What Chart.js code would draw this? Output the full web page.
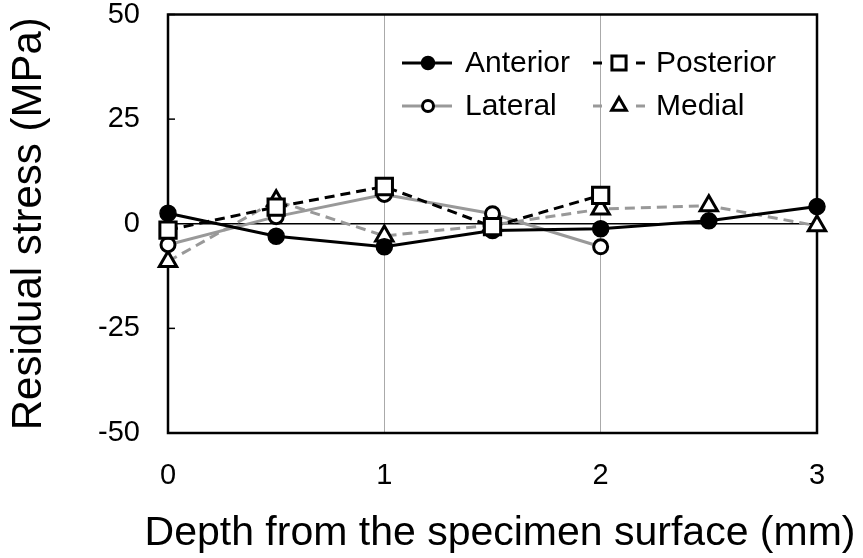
<!DOCTYPE html>
<html>
<head>
<meta charset="utf-8">
<script src="https://cdn.jsdelivr.net/npm/chart.js@4.4.1/dist/chart.umd.min.js"></script>
<style>
  html, body { margin: 0; padding: 0; background: #fff; }
  #wrap { width: 863px; height: 558px; }
</style>
</head>
<body>
<div id="wrap"><canvas id="stressChart" width="863" height="558"></canvas></div>
<script>
// depth positions (mm) and residual stress (MPa)
const depths = [0, 0.5, 1, 1.5, 2, 2.5, 3];
const anterior = [2.5, -3, -5.5, -1.6, -1.2, 0.7, 4.1];
const posterior = [-1.5, 4, 8.9, -0.7, 6.8];
const lateral = [-5, 1.7, 7, 2.4, -5.5];
const medial = [-9, 5.5, -2.9, -0.3, 3.5, 4.3, -0.5];
const xTicks = [0, 1, 2, 3];
const yTicks = [-50, -25, 0, 25, 50];
const seriesNames = ['Anterior', 'Posterior', 'Lateral', 'Medial'];
const xTitle = 'Depth from the specimen surface (mm)';
const yTitle = 'Residual stress (MPa)';

const FONT = "'Liberation Sans', Arial, sans-serif";
const GREY = '#999999';

function pts(values) {
  return values.map((v, i) => ({ x: depths[i], y: v }));
}

const datasets = [
  { label: seriesNames[0], data: pts(anterior), borderColor: '#000', borderWidth: 3,
    pointStyle: 'circle', pointRadius: 8, pointBackgroundColor: '#000', pointBorderColor: '#000',
    pointBorderWidth: 1.5, order: 1 },
  { label: seriesNames[1], data: pts(posterior), borderColor: '#000', borderWidth: 3, borderDash: [10, 6],
    pointStyle: 'rect', pointRadius: 11.5, pointBackgroundColor: '#fff', pointBorderColor: '#000',
    pointBorderWidth: 3, order: 0 },
  { label: seriesNames[2], data: pts(lateral), borderColor: GREY, borderWidth: 3,
    pointStyle: 'circle', pointRadius: 7, pointBackgroundColor: '#fff', pointBorderColor: '#000',
    pointBorderWidth: 3, order: 2 },
  { label: seriesNames[3], data: pts(medial), borderColor: GREY, borderWidth: 3, borderDash: [10, 6],
    pointStyle: 'triangle', pointRadius: 10, pointBackgroundColor: '#fff', pointBorderColor: '#000',
    pointBorderWidth: 3, order: 3 }
];
datasets.forEach(d => { d.tension = 0; d.clip = false; d.fill = false; });

// frame on all four sides, short inward ticks on the y axis, and the x title
// (drawn here so it is not squeezed to the plot width)
const framePlugin = {
  id: 'frame',
  beforeDatasetsDraw(chart) {
    const { ctx, chartArea: a, scales: { y } } = chart;
    ctx.save();
    ctx.strokeStyle = '#000';
    ctx.lineWidth = 1.5;
    yTicks.forEach(t => {
      const py = y.getPixelForValue(t);
      ctx.beginPath();
      ctx.moveTo(a.left, py);
      ctx.lineTo(a.left + 7, py);
      ctx.stroke();
    });
    ctx.lineWidth = 2.5;
    ctx.strokeRect(a.left, a.top, a.right - a.left, a.bottom - a.top);

    ctx.fillStyle = '#000';
    ctx.font = '41px ' + FONT;
    ctx.textAlign = 'center';
    ctx.textBaseline = 'alphabetic';
    ctx.fillText(xTitle, 500, 545);
    ctx.restore();
  }
};

// legend inside the plot, two columns
const legendPlugin = {
  id: 'insideLegend',
  afterDatasetsDraw(chart) {
    const { ctx } = chart;
    const cols = [402, 593];
    const rows = [63, 106];
    ctx.save();
    ctx.font = '30px ' + FONT;
    ctx.textBaseline = 'middle';
    ctx.fillStyle = '#000';
    chart.data.datasets.forEach((ds, i) => {
      const x0 = cols[i % 2];
      const y0 = rows[Math.floor(i / 2)];
      const mx = x0 + 26;
      ctx.strokeStyle = ds.borderColor;
      ctx.lineWidth = 3;
      ctx.setLineDash([]);
      ctx.beginPath();
      if (ds.borderDash) {
        ctx.moveTo(x0, y0); ctx.lineTo(x0 + 9, y0);
        ctx.moveTo(mx + 17, y0); ctx.lineTo(mx + 26, y0);
      } else {
        ctx.moveTo(x0, y0); ctx.lineTo(x0 + 50, y0);
      }
      ctx.stroke();
      ctx.fillStyle = ds.pointBackgroundColor;
      ctx.strokeStyle = ds.pointBorderColor;
      ctx.lineWidth = ds.pointBorderWidth;
      Chart.helpers.drawPoint(ctx, {
        pointStyle: ds.pointStyle, radius: ds.pointRadius - 1.5, rotation: 0, borderWidth: ds.pointBorderWidth
      }, mx, y0);
      ctx.fillStyle = '#000';
      ctx.fillText(ds.label, x0 + 63, y0 + 1);
    });
    ctx.restore();
  }
};

new Chart(document.getElementById('stressChart').getContext('2d'), {
  type: 'line',
  data: { datasets },
  plugins: [framePlugin, legendPlugin],
  options: {
    responsive: false, animation: false, devicePixelRatio: 1,
    layout: { padding: { top: 14, right: 46, bottom: 0, left: 0 } },
    plugins: { legend: { display: false }, tooltip: { enabled: false } },
    scales: {
      x: {
        type: 'linear', min: 0, max: 3,
        afterFit: s => { s.height = 125; s.paddingLeft = 0; s.paddingRight = 0; },
        afterBuildTicks: s => { s.ticks = xTicks.map(v => ({ value: v })); },
        ticks: { color: '#000', padding: 28, font: { family: FONT, size: 29, lineHeight: 1 } },
        grid: { drawTicks: false, lineWidth: 1,
          color: c => (c.tick && c.tick.value > 0 && c.tick.value < 3) ? '#aaaaaa' : 'rgba(0,0,0,0)' },
        border: { display: false },
        title: { display: false }
      },
      y: {
        type: 'linear', min: -50, max: 50,
        afterFit: s => { s.width = 168; s.paddingTop = 0; s.paddingBottom = 0; },
        afterBuildTicks: s => { s.ticks = yTicks.map(v => ({ value: v })); },
        ticks: { color: '#000', padding: 28, font: { family: FONT, size: 29, lineHeight: 1 } },
        grid: { drawTicks: false, lineWidth: 1.5,
          color: c => (c.tick && c.tick.value === 0) ? '#000' : 'rgba(0,0,0,0)' },
        border: { display: false },
        title: { display: true, text: yTitle, color: '#000',
          font: { family: FONT, size: 42, lineHeight: 1.2 }, padding: { top: 4, bottom: 0 } }
      }
    }
  }
});
</script>
</body>
</html>
